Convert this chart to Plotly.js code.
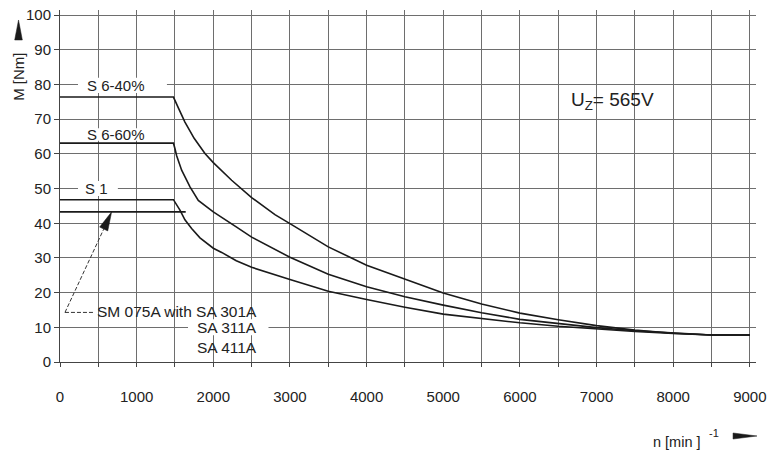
<!DOCTYPE html>
<html>
<head>
<meta charset="utf-8">
<script src="https://cdn.plot.ly/plotly-3.0.1.min.js"></script>
<style>html,body{margin:0;padding:0;background:#fff;}#chart{width:770px;height:451px;}</style>
</head>
<body>
<div id="chart"></div>
<script>
// ---- data (speed n in min^-1, torque M in Nm) ----
var s640_n = [0, 1480, 1550, 1630, 1750, 1891, 2000, 2239, 2500, 2804, 3000, 3500, 4000, 4500, 5000, 5500, 6000, 6500, 7000, 7500, 8000, 8500, 9000];
var s640_M = [76.4, 76.4, 73.0, 69.2, 64.5, 60.1, 57.5, 52.4, 47.4, 42.5, 39.9, 33.2, 27.9, 23.9, 19.9, 16.7, 14.1, 12.2, 10.5, 9.2, 8.3, 7.8, 7.8];

var s660_n = [0, 1480, 1500, 1522, 1587, 1696, 1804, 2000, 2304, 2500, 3000, 3500, 4000, 4500, 5000, 5500, 6000, 6500, 7000, 7500, 8000, 8500, 9000];
var s660_M = [63.1, 63.1, 61.5, 59.5, 55.3, 50.5, 46.6, 43.3, 38.9, 36.0, 30.2, 25.3, 21.7, 18.8, 16.4, 14.2, 12.3, 11.0, 9.9, 9.0, 8.3, 7.8, 7.8];

var s1_n = [0, 1480, 1565, 1630, 1717, 1826, 2000, 2109, 2300, 2500, 3000, 3500, 4000, 4174, 4500, 5000, 5500, 6000, 6500, 7000, 7500, 8000, 8500, 9000];
var s1_M = [46.8, 46.8, 43.8, 41.0, 38.5, 35.8, 32.8, 31.6, 29.2, 27.3, 23.8, 20.4, 18.0, 17.2, 15.8, 13.8, 12.5, 11.3, 10.3, 9.5, 8.8, 8.2, 7.8, 7.8];

var rated_n = [0, 1640];
var rated_M = [43.3, 43.3];

var xTickVals = [0, 500, 1000, 1500, 2000, 2500, 3000, 3500, 4000, 4500, 5000, 5500, 6000, 6500, 7000, 7500, 8000, 8500, 9000];
var xTickText = ["0", " ", "1000", " ", "2000", " ", "3000", " ", "4000", " ", "5000", " ", "6000", " ", "7000", " ", "8000", " ", "9000"];
var yTickVals = [0, 10, 20, 30, 40, 50, 60, 70, 80, 90, 100];

var curveLabels = ["S 6-40%", "S 6-60%", "S 1"];
var motorLabels = ["SM 075A with SA 301A", "SA 311A", "SA 411A"];
var voltageLabel = "U<sub>Z</sub>= 565V";
var xTitle = "n [min ]";
var xTitleExp = "-1";
var yTitle = "M [Nm]";

// ---- drawing ----
var FONT = "Liberation Sans, Arial, sans-serif";
var INK = "#1a1a1a";
var GRID = "#6e6e6e";

function curve(x, y) {
  return {x: x, y: y, type: "scatter", mode: "lines", hoverinfo: "skip",
          line: {color: INK, width: 1.6}, showlegend: false};
}
var traces = [curve(s640_n, s640_M), curve(s660_n, s660_M), curve(s1_n, s1_M), curve(rated_n, rated_M)];

function whiteBox(x0, x1, y0, y1) {
  return {type: "rect", xref: "x", yref: "y", x0: x0, x1: x1, y0: y0, y1: y1,
          fillcolor: "#ffffff", line: {width: 0}, layer: "above"};
}

var shapes = [
  whiteBox(235, 1395, 77.6, 82.0),
  whiteBox(300, 1150, 63.8, 67.4),
  whiteBox(235, 755, 47.9, 52.2),
  whiteBox(1670, 2720, 7.7, 12.3),
  // dashed leader
  {type: "line", xref: "x", yref: "y", x0: 430, y0: 14.3, x1: 65, y1: 14.3,
   line: {color: "#333", width: 1, dash: "4px,2px"}, layer: "above"},
  {type: "line", xref: "x", yref: "y", x0: 65, y0: 14.3, x1: 570, y1: 38.3,
   line: {color: "#333", width: 1, dash: "4px,2px"}, layer: "above"},
  // arrowhead
  {type: "path", xref: "x", yref: "y", path: "M 674,43.3 L 623,37.8 L 517,38.9 Z",
   fillcolor: INK, line: {color: INK, width: 0.5}, layer: "above"},
  // axis direction triangles (paper coords)
  {type: "path", xref: "paper", yref: "paper",
   path: "M -0.0596,0.9716 L -0.0651,0.9148 L -0.0541,0.9148 Z",
   fillcolor: INK, line: {color: INK, width: 0.5}},
  {type: "path", xref: "paper", yref: "paper",
   path: "M 1.0014,-0.2102 L 0.967,-0.2017 L 0.967,-0.2188 Z",
   fillcolor: INK, line: {color: INK, width: 0.5}}
];

function txt(text, x, y, xanchor, size) {
  return {text: text, x: x, y: y, xref: "x", yref: "y", showarrow: false,
          xanchor: xanchor || "center", yanchor: "middle",
          font: {family: FONT, size: size || 15, color: "#222"}};
}

var annotations = [
  txt(curveLabels[0], 730, 79.6),
  txt(curveLabels[1], 730, 65.5),
  txt(curveLabels[2], 480, 50.1),
  txt(motorLabels[0], 2590, 14.5, "right", 15.5),
  txt(motorLabels[1], 2590, 10.0, "right", 15.5),
  txt(motorLabels[2], 2590, 4.3, "right", 15.5),
  txt(voltageLabel, 6640, 75.4, "left", 19),
  {text: yTitle, xref: "paper", yref: "paper", x: -0.0590, y: 0.81, textangle: -90,
   showarrow: false, xanchor: "center", yanchor: "middle",
   font: {family: FONT, size: 15, color: "#222"}},
  {text: xTitle, xref: "paper", yref: "paper", x: 0.924, y: -0.228,
   showarrow: false, xanchor: "right", yanchor: "middle",
   font: {family: FONT, size: 14.5, color: "#222"}},
  {text: xTitleExp, xref: "paper", yref: "paper", x: 0.930, y: -0.203,
   showarrow: false, xanchor: "left", yanchor: "middle",
   font: {family: FONT, size: 11, color: "#222"}}
];

var layout = {
  width: 770, height: 451,
  margin: {l: 60, r: 14, t: 10, b: 89},
  paper_bgcolor: "#ffffff", plot_bgcolor: "#ffffff",
  font: {family: FONT, size: 15, color: "#222"},
  showlegend: false,
  xaxis: {
    range: [0, 9080], tickmode: "array", tickvals: xTickVals, ticktext: xTickText,
    showgrid: true, gridcolor: GRID, gridwidth: 1, zeroline: false,
    showline: true, linecolor: "#444", linewidth: 1,
    ticks: "outside", ticklen: 4, tickcolor: "#444", ticklabelstandoff: 17,
    tickfont: {family: FONT, size: 15, color: "#222"}, fixedrange: true
  },
  yaxis: {
    range: [0, 101.5], tickmode: "array", tickvals: yTickVals,
    showgrid: true, gridcolor: GRID, gridwidth: 1, zeroline: false,
    showline: true, linecolor: "#444", linewidth: 1,
    ticks: "outside", ticklen: 5, tickcolor: "#444",
    tickfont: {family: FONT, size: 15, color: "#222"}, fixedrange: true
  },
  shapes: shapes,
  annotations: annotations
};

Plotly.newPlot("chart", traces, layout, {staticPlot: true, displayModeBar: false});
</script>
</body>
</html>
